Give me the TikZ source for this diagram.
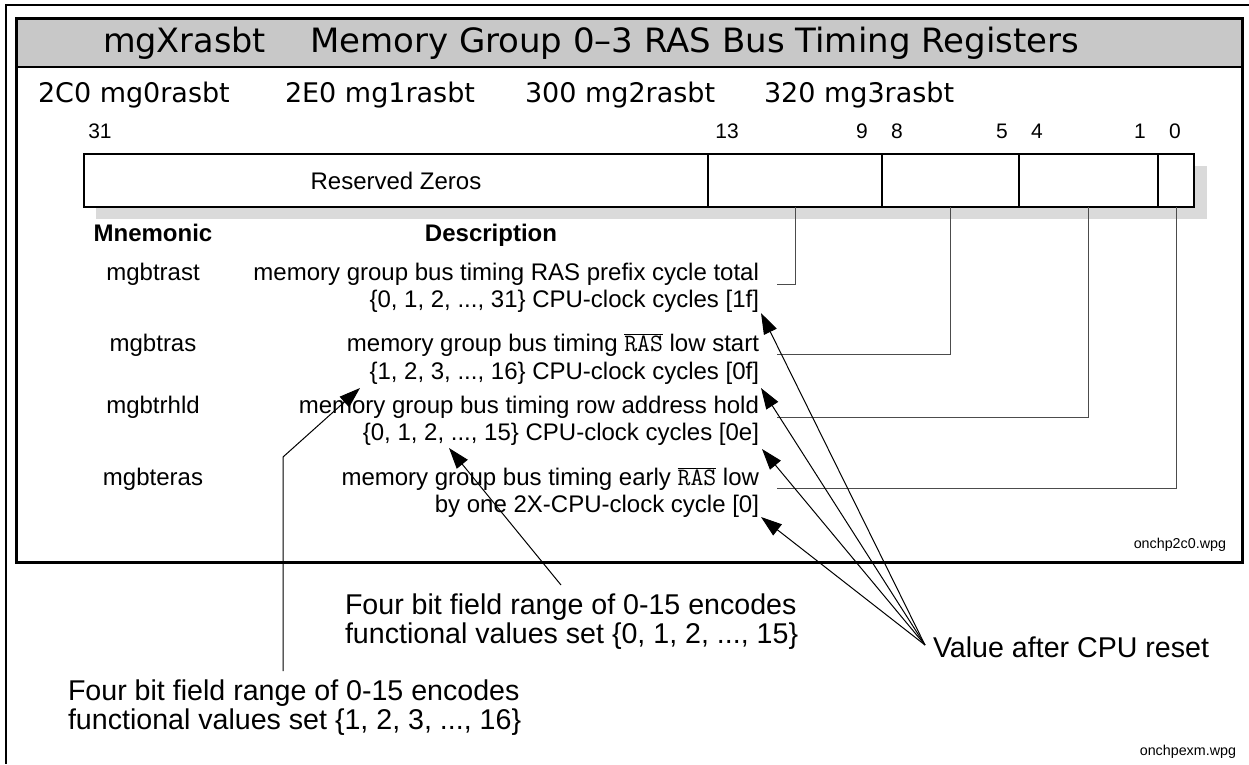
\documentclass[tikz,border=0pt]{standalone}
\usepackage{graphicx}
\usepackage{fontspec}
\setmainfont{Liberation Sans}
\newfontfamily\titlefont{DejaVu Sans}
\usetikzlibrary{arrows.meta}

\definecolor{bandgray}{RGB}{200,200,200}
\definecolor{shadowgray}{RGB}{218,218,218}

\newcommand\fs[1]{\fontsize{#1}{#1}\selectfont}
\newcommand\rasbar{$\overline{\hbox{\ttfamily\fs{25}RAS}}$}

\begin{document}
\begin{tikzpicture}[x=1pt,y=-1pt,
  every node/.style={inner sep=0pt, outer sep=0pt},
  titletext/.style={font=\titlefont\fs{33.5}, anchor=base west},
  addr/.style={font=\titlefont\fs{27}, anchor=base west},
  bitno/.style={font=\fs{21}, anchor=base},
  regfield/.style={draw, line width=1.2pt, fill=white, minimum height=53pt,
                   anchor=north west, font=\fs{24}},
  header/.style={font=\bfseries\fs{24}, anchor=base},
  mnem/.style={font=\fs{24}, anchor=base},
  desc/.style={font=\fs{24}, anchor=base east},
  anno/.style={font=\fs{28.6}, anchor=base west},
  fname/.style={font=\fs{14.3}, anchor=base east},
  fieldline/.style={draw=black!70, line width=1pt},
  arr/.style={draw=black, line width=1pt, -{Triangle[length=21pt,width=14pt]}}
]
\useasboundingbox (0,0) rectangle (1249,764);

% outer page frame
\draw[line width=1.2pt] (1249,5) -- (6,5) -- (6,764);

% register panel: title band and heavy frame
\fill[bandgray] (16,18) rectangle (1242,67);
\draw[line width=1.2pt] (16,67) -- (1242,67);
\draw[line width=3pt] (16,18) rectangle (1242,562);

% title
\node[titletext] (tname) at (103,52) {mgXrasbt};
\node[titletext] (ttitle) at (310,52)
  {\resizebox{769pt}{\height}{Memory Group 0–3 RAS Bus Timing Registers}};

% register addresses
\node[addr] (ad0) at (38,102) {2C0 mg0rasbt};
\node[addr] (ad1) at (285,102) {2E0 mg1rasbt};
\node[addr] (ad2) at (525,102) {300 mg2rasbt};
\node[addr] (ad3) at (764,102) {320 mg3rasbt};

% bit numbers
\node[bitno] (b31) at (100,138) {31};
\node[bitno] (b13) at (727,138) {13};
\node[bitno] (b9)  at (862,138) {9};
\node[bitno] (b8)  at (897,138) {8};
\node[bitno] (b5)  at (1002,138) {5};
\node[bitno] (b4)  at (1037,138) {4};
\node[bitno] (b1)  at (1140,138) {1};
\node[bitno] (b0)  at (1175,138) {0};

% register layout with drop shadow
\fill[shadowgray] (96,166) rectangle (1207,219);
\node[regfield, minimum width=624pt] (fres) at (84,154) {Reserved Zeros};
\node[regfield, minimum width=174pt] (f139) at (708,154) {};
\node[regfield, minimum width=137pt] (f85)  at (882,154) {};
\node[regfield, minimum width=139pt] (f41)  at (1019,154) {};
\node[regfield, minimum width=36pt]  (f0)   at (1158,154) {};

% column headers
\node[header] (hmn) at (153,241) {Mnemonic};
\node[header] (hds) at (491,241) {Description};

% mnemonics
\node[mnem] (m1) at (153,280) {mgbtrast};
\node[mnem] (m2) at (153,351) {mgbtras};
\node[mnem] (m3) at (153,413) {mgbtrhld};
\node[mnem] (m4) at (153,485) {mgbteras};

% descriptions
\node[desc] (d1a) at (759,280) {memory group bus timing RAS prefix cycle total};
\node[desc] (d1b) at (759,307) {\{0, 1, 2, ..., 31\} CPU-clock cycles [1f]};
\node[desc] (d2a) at (759,351) {memory group bus timing \rasbar{} low start};
\node[desc] (d2b) at (759,379) {\{1, 2, 3, ..., 16\} CPU-clock cycles [0f]};
\node[desc] (d3a) at (759,413) {memory group bus timing row address hold};
\node[desc] (d3b) at (759,440) {\{0, 1, 2, ..., 15\} CPU-clock cycles [0e]};
\node[desc] (d4a) at (759,485) {memory group bus timing early \rasbar{} low};
\node[desc] (d4b) at (759,512) {by one 2X-CPU-clock cycle [0]};

% field leaders
\coordinate (e1) at (777,284);
\coordinate (e2) at (777,354);
\coordinate (e3) at (777,417);
\coordinate (e4) at (777,488);
\draw[fieldline] (f139.south) |- (e1);
\draw[fieldline] (f85.south)  |- (e2);
\draw[fieldline] (f41.south)  |- (e3);
\draw[fieldline] (f0.south)   |- (e4);

\node[fname] (fig1) at (1226,548) {onchp2c0.wpg};

% reset value callout
\node[anno, anchor=west] (val) at (933,647) {Value after CPU reset};
\coordinate (vc) at (925,645);
\coordinate (t1) at (761,313);
\coordinate (t2) at (761,388);
\coordinate (t3) at (762,449);
\coordinate (t4) at (761,517);
\draw[arr] (vc) -- (t1);
\draw[arr] (vc) -- (t2);
\draw[arr] (vc) -- (t3);
\draw[arr] (vc) -- (t4);

% encoding callouts
\node[anno] (a1a) at (345,614) {Four bit field range of 0-15 encodes};
\node[anno] (a1b) at (345,643) {functional values set \{0, 1, 2, ..., 15\}};
\coordinate (s1) at (561,585);
\coordinate (u1) at (449,448);
\draw[arr] (s1) -- (u1);

\node[anno] (a2a) at (68,700) {Four bit field range of 0-15 encodes};
\node[anno] (a2b) at (68,729) {functional values set \{1, 2, 3, ..., 16\}};
\coordinate (s2) at (283,671);
\coordinate (k2) at (283,457);
\coordinate (u2) at (360,388);
\draw[arr] (s2) -- (k2) -- (u2);

\node[fname] (fig2) at (1236,755) {onchpexm.wpg};
\end{tikzpicture}
\end{document}
